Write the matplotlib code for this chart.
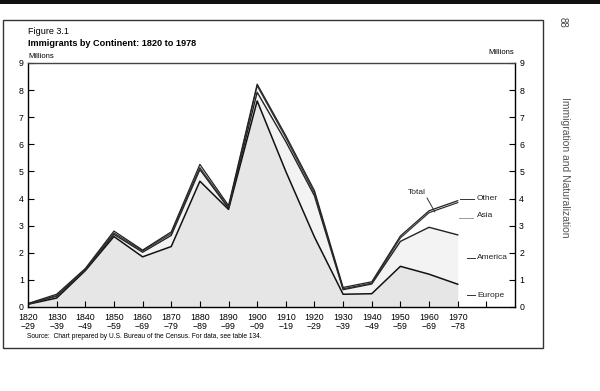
import numpy as np
import matplotlib
matplotlib.use("Agg")
import matplotlib.pyplot as plt
from matplotlib.patches import Rectangle

plt.rcParams['font.family'] = ['Liberation Sans', 'DejaVu Sans']

# - DATA (millions, stacked / cumulative) - #
decades = ['1820\n\u221229', '1830\n\u221239', '1840\n\u221249', '1850\n\u221259',
           '1860\n\u221269', '1870\n\u221279', '1880\n\u221289', '1890\n\u221299',
           '1900\n\u221209', '1910\n\u221219', '1920\n\u221229', '1930\n\u221239',
           '1940\n\u221249', '1950\n\u221259', '1960\n\u221269', '1970\n\u221278']
europe  = [0.10, 0.33, 1.34, 2.60, 1.85, 2.23, 4.64, 3.60, 7.60, 5.00, 2.58, 0.47, 0.49, 1.50, 1.21, 0.84]
america = [0.11, 0.40, 1.37, 2.68, 2.02, 2.64, 5.07, 3.64, 7.92, 6.10, 4.10, 0.64, 0.85, 2.42, 2.94, 2.66]
asia    = [0.11, 0.42, 1.38, 2.73, 2.07, 2.71, 5.14, 3.68, 8.16, 6.24, 4.20, 0.67, 0.88, 2.55, 3.48, 3.85]
total   = [0.13, 0.47, 1.42, 2.80, 2.10, 2.77, 5.26, 3.74, 8.22, 6.32, 4.29, 0.72, 0.93, 2.62, 3.55, 3.92]

x = np.arange(len(decades))

fig = plt.figure(figsize=(6, 3.91), dpi=100)
ax = fig.add_axes([28/600, 84/391, 487/600, 244/391])

# stippled shading of the scan, done as flat greys
ax.fill_between(x, 0, europe, color='#e6e6e6', lw=0)
ax.fill_between(x, europe, america, color='#f3f3f3', lw=0)

ax.plot(x, europe, color='#111111', lw=1.1)
ax.plot(x, america, color='#222222', lw=1.0)
ax.plot(x, asia, color='#333333', lw=0.9)
ax.plot(x, total, color='#222222', lw=0.9)

ax.set_xlim(0, 17)
ax.set_ylim(0, 9)
ax.set_xticks(np.arange(17))
ax.set_xticklabels(decades + [''], fontsize=6.3, linespacing=1.1)
ax.set_yticks(range(10))
ax.tick_params(axis='y', direction='in', length=4, width=0.8, labelsize=6.3,
               right=True, labelright=True, pad=3)
ax.tick_params(axis='x', direction='in', length=4, width=0.8, pad=4)
for s in ax.spines.values():
    s.set_linewidth(1.0)
ax.spines['top'].set_color('#444444')

# series labels with leader lines
lab = dict(fontsize=6, va='center', ha='left', color='#222222')
ax.text(15.67, 4.02, 'Other', **lab)
ax.plot([15.08, 15.57], [3.99, 3.99], color='#333333', lw=0.7)
ax.text(15.67, 3.36, 'Asia', **lab)
ax.plot([15.04, 15.53], [3.28, 3.28], color='#999999', lw=0.7)
ax.text(15.67, 1.81, 'America', **lab)
ax.plot([15.32, 15.6], [1.81, 1.81], color='#333333', lw=0.7)
ax.text(15.67, 0.44, 'Europe', **lab)
ax.plot([15.32, 15.6], [0.44, 0.44], color='#333333', lw=0.7)
ax.text(13.58, 4.24, 'Total', fontsize=6, ha='center', va='center', color='#222222')
ax.plot([13.93, 14.2], [4.02, 3.51], color='#333333', lw=0.7)

# titles and notes
fig.text(28/600, 1 - 32/391, 'Figure 3.1', fontsize=6.5, va='center')
fig.text(28/600, 1 - 43.5/391, 'Immigrants by Continent: 1820 to 1978', fontsize=6.6,
         fontweight='bold', va='center')
fig.text(28/600, 1 - 56/391, 'Millions', fontsize=5.5, va='center')
fig.text(514/600, 1 - 52/391, 'Millions', fontsize=5.5, va='center', ha='right')
fig.text(27/600, 1 - 337/391,
         'Source:  Chart prepared by U.S. Bureau of the Census. For data, see table 134.',
         fontsize=4.8, va='center')

# page furniture
fig.add_artist(Rectangle((3/600, 1 - 348/391), 540/600, 328/391, transform=fig.transFigure,
                         fill=False, ec='#333333', lw=1.0))
fig.add_artist(Rectangle((0, 1 - 4/391), 1, 4/391, transform=fig.transFigure,
                         color='#111111', lw=0))
fig.text(563/600, 1 - 22/391, '88', fontsize=7, rotation=-90, ha='center', va='center',
         color='#444444')
fig.text(565/600, 1 - 167/391, 'Immigration and Naturalization', fontsize=7.5, rotation=-90,
         ha='center', va='center', color='#555555')

fig.savefig('out.png', dpi=100)
